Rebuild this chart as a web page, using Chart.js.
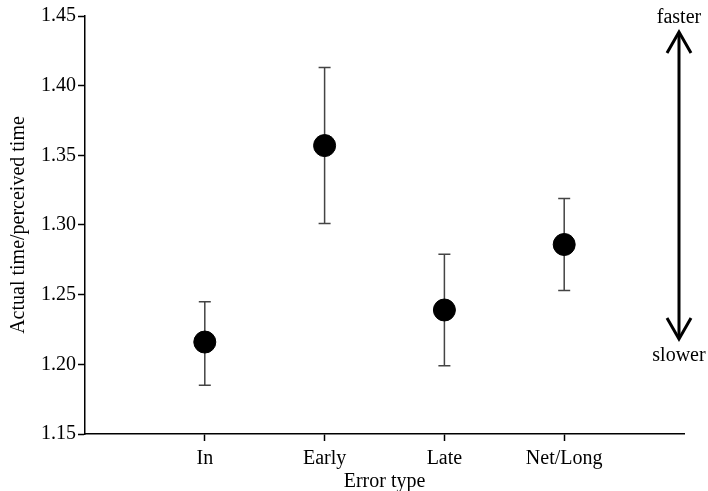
<!DOCTYPE html>
<html>
<head>
<meta charset="utf-8">
<script src="https://cdn.jsdelivr.net/npm/chart.js@4.4.1/dist/chart.umd.min.js"></script>
<style>
  html, body { margin: 0; padding: 0; background: #fff; }
  #wrap { width: 708px; height: 491px; }
</style>
</head>
<body>
<div id="wrap"><canvas id="errorChart"></canvas></div>
<script>
// ======================================================
// DATA
// ======================================================

const categories = ["In", "Early", "Late", "Net/Long"];
const meanValues = [1.216, 1.357, 1.239, 1.286];
const upperValues = [1.245, 1.413, 1.279, 1.319];
const lowerValues = [1.185, 1.301, 1.199, 1.253];

const yTicks = [1.15, 1.20, 1.25, 1.30, 1.35, 1.40, 1.45];

const FONT = "'Liberation Serif', 'DejaVu Serif', serif";

// ======================================================
// PLUGINS
// ======================================================

// error bars drawn under the points
const errorBars = {
  id: "errorBars",
  beforeDatasetsDraw(chart) {
    const { ctx, scales } = chart;
    ctx.save();
    ctx.strokeStyle = "#444";
    ctx.lineWidth = 1.5;
    categories.forEach((c, i) => {
      const x = scales.x.getPixelForValue(i);
      const yTop = scales.y.getPixelForValue(upperValues[i]);
      const yBot = scales.y.getPixelForValue(lowerValues[i]);
      ctx.beginPath();
      ctx.moveTo(x, yTop);
      ctx.lineTo(x, yBot);
      ctx.moveTo(x - 6, yTop);
      ctx.lineTo(x + 6, yTop);
      ctx.moveTo(x - 6, yBot);
      ctx.lineTo(x + 6, yBot);
      ctx.stroke();
    });
    ctx.restore();
  },
};

// faster / slower arrow on the right
const speedArrow = {
  id: "speedArrow",
  afterDraw(chart) {
    const { ctx, chartArea } = chart;
    const x = chartArea.right - 5;
    const top = chartArea.top + 16;
    const bottom = chartArea.bottom - 95;

    ctx.save();
    ctx.strokeStyle = "#000";
    ctx.lineWidth = 3;
    ctx.beginPath();
    ctx.moveTo(x, top + 1);
    ctx.lineTo(x, bottom - 1);
    ctx.stroke();

    ctx.beginPath();
    ctx.moveTo(x - 12, top + 21);
    ctx.lineTo(x, top);
    ctx.lineTo(x + 12, top + 21);
    ctx.moveTo(x - 12, bottom - 21);
    ctx.lineTo(x, bottom);
    ctx.lineTo(x + 12, bottom - 21);
    ctx.stroke();

    ctx.fillStyle = "#000";
    ctx.font = "20px " + FONT;
    ctx.textAlign = "center";
    ctx.textBaseline = "middle";
    ctx.fillText("faster", x, top - 14);
    ctx.fillText("slower", x, bottom + 17);
    ctx.restore();
  },
};

// ======================================================
// CHART
// ======================================================

const ctx = document.getElementById("errorChart").getContext("2d");

new Chart(ctx, {
  type: "scatter",
  data: {
    datasets: [
      {
        data: meanValues.map((v, i) => ({ x: i, y: v })),
        backgroundColor: "#000",
        borderColor: "#000",
        pointRadius: 11,
        pointHoverRadius: 11,
      },
    ],
  },
  options: {
    responsive: true,
    maintainAspectRatio: false,
    animation: false,
    layout: {
      padding: { left: 0, right: 24, top: 16, bottom: 0 },
    },
    plugins: {
      legend: { display: false },
      tooltip: { enabled: false },
    },
    scales: {
      x: {
        type: "linear",
        min: -1,
        max: 4,
        afterBuildTicks(scale) {
          scale.ticks = categories.map((c, i) => ({ value: i }));
        },
        afterFit(scale) {
          scale.height = 57;
        },
        border: { color: "#000", width: 1.5 },
        grid: {
          drawOnChartArea: false,
          drawTicks: true,
          tickLength: 7,
          tickColor: "#000",
          tickWidth: 1.5,
        },
        ticks: {
          color: "#000",
          padding: 6,
          font: { family: FONT, size: 20 },
          callback: (v) => categories[v] ?? "",
          maxRotation: 0,
        },
        title: {
          display: true,
          text: "Error type",
          color: "#000",
          font: { family: FONT, size: 20 },
          padding: { top: 0, bottom: -3 },
        },
      },
      y: {
        min: 1.15,
        max: 1.45,
        afterBuildTicks(scale) {
          scale.ticks = yTicks.map((v) => ({ value: v }));
        },
        afterFit(scale) {
          scale.width = 85;
        },
        border: { color: "#000", width: 1.5 },
        grid: {
          drawOnChartArea: false,
          drawTicks: true,
          tickLength: 7,
          tickColor: "#000",
          tickWidth: 1.5,
        },
        ticks: {
          color: "#000",
          padding: 2,
          font: { family: FONT, size: 20 },
          callback: (v) => v.toFixed(2),
        },
        title: {
          display: true,
          text: "Actual time/perceived time",
          color: "#000",
          font: { family: FONT, size: 20 },
          padding: { top: 7, bottom: 0 },
        },
      },
    },
  },
  plugins: [errorBars, speedArrow],
});
</script>
</body>
</html>
